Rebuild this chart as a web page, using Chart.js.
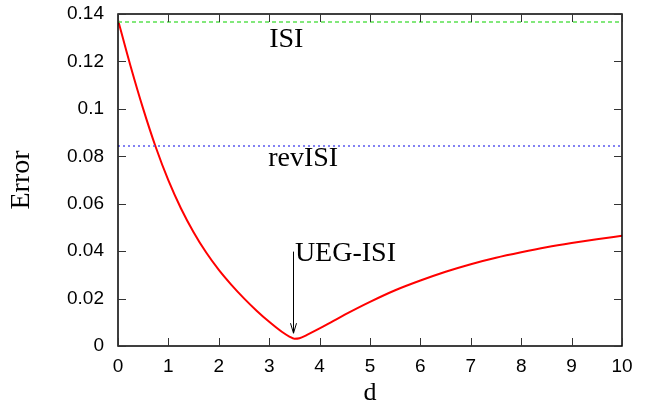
<!DOCTYPE html>
<html>
<head>
<meta charset="utf-8">
<script src="https://cdn.jsdelivr.net/npm/chart.js@4/dist/chart.umd.min.js"></script>
<style>
  html, body { margin: 0; padding: 0; background: #fff; }
  #wrap { width: 649px; height: 409px; }
</style>
</head>
<body>
<div id="wrap"><canvas id="errChart"></canvas></div>
<script>
// d values and the UEG-ISI error curve
const dValues = [0, 0.25, 0.5, 0.75, 1, 1.25, 1.5, 1.75, 2, 2.25, 2.5, 2.75, 3, 3.25, 3.4, 3.5, 3.6, 3.75, 4, 4.25, 4.5, 5, 5.5, 6, 6.5, 7, 7.5, 8, 8.5, 9, 9.5, 10];
const uegIsi = [0.1375, 0.1180, 0.1000, 0.0838, 0.0698, 0.0580, 0.0480, 0.0394, 0.0321, 0.0258, 0.0201, 0.0149, 0.0102, 0.0060, 0.0040, 0.0031, 0.0033, 0.0047, 0.0074, 0.0103, 0.0132, 0.0186, 0.0235, 0.0276, 0.0313, 0.0345, 0.0372, 0.0395, 0.0416, 0.0434, 0.0450, 0.0465];
const isiLevel = 0.1366;
const revIsiLevel = 0.0843;

const xTicks = [0, 1, 2, 3, 4, 5, 6, 7, 8, 9, 10];
const yTicks = [0, 0.02, 0.04, 0.06, 0.08, 0.1, 0.12, 0.14];
const yTickLabels = ["0", "0.02", "0.04", "0.06", "0.08", "0.1", "0.12", "0.14"];

// labels placed in data units: [text, d, error]
const textLabels = [
  ["ISI", 3.0, 0.1262],
  ["revISI", 2.98, 0.0758],
  ["UEG-ISI", 3.51, 0.0358]
];
const arrowFrom = [3.48, 0.0398];
const arrowTo = [3.48, 0.0054];

const curveData = dValues.map((d, i) => ({ x: d, y: uegIsi[i] }));
const flat = v => [{ x: 0, y: v }, { x: 10, y: v }];

const boxPlugin = {
  id: "box",
  afterDraw(chart) {
    const { ctx, chartArea: a, scales: { x, y } } = chart;
    ctx.save();
    // frame
    ctx.strokeStyle = "#000";
    ctx.lineWidth = 1.5;
    ctx.strokeRect(a.left, a.top, a.right - a.left, a.bottom - a.top);
    // inward ticks on all sides
    ctx.lineWidth = 1;
    ctx.strokeStyle = "#333";
    const len = 8;
    ctx.beginPath();
    xTicks.forEach(v => {
      const px = Math.round(x.getPixelForValue(v)) + 0.5;
      ctx.moveTo(px, a.bottom); ctx.lineTo(px, a.bottom - len);
      ctx.moveTo(px, a.top); ctx.lineTo(px, a.top + len);
    });
    yTicks.forEach(v => {
      const py = Math.round(y.getPixelForValue(v)) + 0.5;
      ctx.moveTo(a.left, py); ctx.lineTo(a.left + len, py);
      ctx.moveTo(a.right, py); ctx.lineTo(a.right - len, py);
    });
    ctx.stroke();

    // text labels
    ctx.fillStyle = "#000";
    ctx.font = "28px 'Liberation Serif'";
    ctx.textBaseline = "alphabetic";
    ctx.textAlign = "left";
    textLabels.forEach(([t, dx, ey]) => {
      ctx.fillText(t, x.getPixelForValue(dx), y.getPixelForValue(ey));
    });

    // arrow
    const x1 = Math.round(x.getPixelForValue(arrowFrom[0])) + 0.5;
    const y1 = y.getPixelForValue(arrowFrom[1]);
    const y2 = y.getPixelForValue(arrowTo[1]);
    ctx.strokeStyle = "#000";
    ctx.lineWidth = 1;
    ctx.beginPath();
    ctx.moveTo(x1, y1); ctx.lineTo(x1, y2);
    ctx.moveTo(x1 - 3, y2 - 10); ctx.lineTo(x1, y2); ctx.lineTo(x1 + 3, y2 - 10);
    ctx.stroke();
    ctx.restore();
  }
};

new Chart(document.getElementById("errChart"), {
  type: "line",
  data: {
    datasets: [
      {
        label: "ISI",
        data: flat(isiLevel),
        borderColor: "rgb(90,225,80)",
        borderWidth: 1.5,
        borderDash: [4, 3],
        pointRadius: 0
      },
      {
        label: "revISI",
        data: flat(revIsiLevel),
        borderColor: "rgb(90,90,240)",
        borderWidth: 1.5,
        borderDash: [2, 3],
        pointRadius: 0
      },
      {
        label: "UEG-ISI",
        data: curveData,
        borderColor: "#ff0000",
        borderWidth: 2,
        pointRadius: 0,
        cubicInterpolationMode: "monotone"
      }
    ]
  },
  options: {
    responsive: true,
    maintainAspectRatio: false,
    animation: false,
    layout: { padding: { top: 14, right: 27, left: 0, bottom: 0 } },
    plugins: { legend: { display: false }, tooltip: { enabled: false } },
    scales: {
      x: {
        type: "linear",
        min: 0, max: 10,
        afterFit: s => { s.height = 63; s.paddingLeft = 0; s.paddingRight = 0; },
        afterBuildTicks: s => { s.ticks = xTicks.map(v => ({ value: v })); },
        grid: { display: false, drawTicks: false },
        border: { display: false },
        ticks: {
          padding: 9,
          color: "#000",
          font: { family: "'Liberation Sans'", size: 19 },
          maxRotation: 0
        },
        title: {
          display: true, text: "d", color: "#000",
          font: { family: "'Liberation Serif'", size: 26 },
          padding: { top: 0, bottom: 0 }
        }
      },
      y: {
        type: "linear",
        min: 0, max: 0.14,
        afterFit: s => { s.width = 118; s.paddingTop = 0; s.paddingBottom = 0; },
        afterBuildTicks: s => { s.ticks = yTicks.map(v => ({ value: v })); },
        grid: { display: false, drawTicks: false },
        border: { display: false },
        ticks: {
          padding: 14,
          color: "#000",
          font: { family: "'Liberation Sans'", size: 19 },
          callback: (v, i) => yTickLabels[i]
        },
        title: {
          display: true, text: "Error", color: "#000",
          font: { family: "'Liberation Serif'", size: 28 },
          padding: { top: 5, bottom: 0 }
        }
      }
    }
  },
  plugins: [boxPlugin]
});
</script>
</body>
</html>
